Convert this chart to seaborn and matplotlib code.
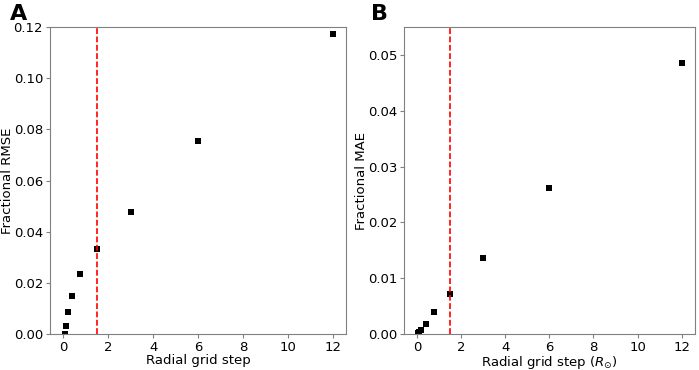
import numpy as np
import pandas as pd
import matplotlib
matplotlib.use("Agg")
import matplotlib.pyplot as plt
import seaborn as sns

# Radial grid step values (halving sequence)
grid_step = [0.046875, 0.09375, 0.1875, 0.375, 0.75, 1.5, 3.0, 6.0, 12.0]
rmse = [0.0002, 0.0031, 0.0086, 0.0149, 0.0235, 0.0332, 0.0478, 0.0756, 0.1172]
mae = [0.0002, 0.0004, 0.0008, 0.0018, 0.0039, 0.0072, 0.0136, 0.0261, 0.0485]
chosen_step = 1.5

panels = [
    ("A", rmse, "Fractional RMSE", "Radial grid step", (0, 0.12)),
    ("B", mae, "Fractional MAE", r"Radial grid step ($R_{\odot}$)", (0, 0.055)),
]

sns.set_style("ticks")
plt.rcParams["font.family"] = ["DejaVu Sans"]
plt.rcParams["font.size"] = 9.5
plt.rcParams["text.color"] = "black"
plt.rcParams["axes.labelcolor"] = "black"

fig = plt.figure(figsize=(6.99, 3.70), dpi=100)
axes = [
    fig.add_axes([0.0715, 0.097, 0.424, 0.830]),
    fig.add_axes([0.578, 0.097, 0.416, 0.830]),
]

for ax, (tag, vals, ylabel, xlabel, ylim) in zip(axes, panels):
    df = pd.DataFrame({"step": grid_step, "err": vals})
    sns.scatterplot(data=df, x="step", y="err", ax=ax, marker="s", s=21,
                    color="black", edgecolor="black", linewidth=0, clip_on=True)
    ax.axvline(chosen_step, color="red", linestyle=(0, (3.5, 1.5)), linewidth=1.2)
    ax.set_ylim(*ylim)
    ax.set_xlim(-0.6, 12.6)
    ax.set_xticks([0, 2, 4, 6, 8, 10, 12])
    ax.set_xlabel(xlabel, fontsize=9.5, labelpad=0)
    ax.set_ylabel(ylabel, fontsize=9.5, labelpad=0)
    for sp in ax.spines.values():
        sp.set_color("#808080")
        sp.set_visible(True)
    ax.tick_params(labelcolor="black", labelsize=9.5, length=3, width=0.8,
                   color="#808080", pad=2)

fig.text(0.014, 0.962, "A", fontsize=16, fontweight="bold", va="center")
fig.text(0.531, 0.962, "B", fontsize=16, fontweight="bold", va="center")

fig.savefig("out.png", dpi=100)
